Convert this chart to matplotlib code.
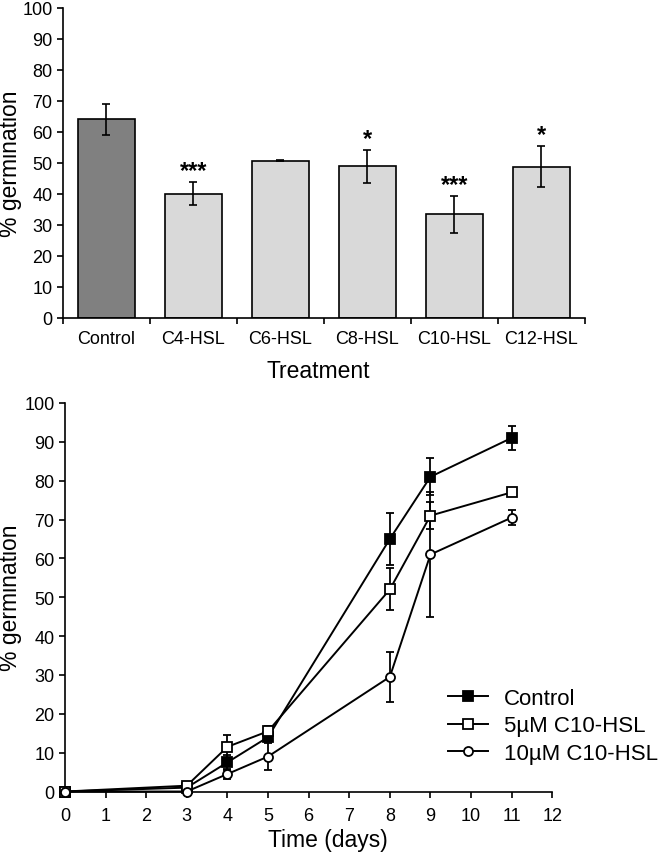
import matplotlib.pyplot as plt
import numpy as np

plt.rcParams["font.family"] = ["Liberation Sans", "DejaVu Sans"]

# top panel: germination per treatment
treatments = ["Control", "C4-HSL", "C6-HSL", "C8-HSL", "C10-HSL", "C12-HSL"]
germination = [64.0, 40.0, 50.7, 48.8, 33.4, 48.7]
germination_err = [4.9, 3.7, 0.2, 5.3, 5.9, 6.6]
significance = ["", "***", "", "*", "***", "*"]

# bottom panel: time course
days = [0, 3, 4, 5, 8, 9, 11]
control = [0, 1.0, 7.5, 14.0, 65.0, 81.0, 91.0]
control_err = [0, 0.5, 2.0, 1.0, 6.8, 4.8, 3.1]
c10_5um = [0, 1.5, 11.5, 15.5, 52.0, 71.0, 77.0]
c10_5um_err = [0, 0.5, 3.0, 1.3, 5.4, 3.5, 0.9]
c10_10um = [0, 0, 4.5, 9.0, 29.5, 61.0, 70.5]
c10_10um_err = [0, 0, 1.2, 3.5, 6.5, 16.0, 2.0]


def style_axes(ax):
    for side in ("top", "right"):
        ax.spines[side].set_visible(False)
    for side in ("left", "bottom"):
        ax.spines[side].set_linewidth(1.2)
    ax.tick_params(direction="out", length=4, width=1.2, labelsize=13)


fig = plt.figure(figsize=(6.63, 8.54), dpi=100)

# ---- bar chart ----
ax1 = fig.add_axes([0.095, 0.6265, 0.787, 0.3635])
style_axes(ax1)
x = np.arange(len(treatments))
colors = ["#808080"] + ["#d9d9d9"] * (len(treatments) - 1)
ax1.bar(x, germination, width=0.655, color=colors, edgecolor="black",
        linewidth=1.2, zorder=2)
ax1.errorbar(x, germination, yerr=germination_err, fmt="none", ecolor="black",
             elinewidth=1.2, capsize=3, capthick=1.2, zorder=3)
for xi, m, e, s in zip(x, germination, germination_err, significance):
    if s:
        ax1.text(xi, m + e, s, ha="center", va="bottom", fontsize=17,
                 fontweight="bold")
ax1.set_xlim(-0.5, len(treatments) - 0.5)
ax1.set_ylim(0, 100)
ax1.set_yticks(np.arange(0, 101, 10))
ax1.set_xticks(np.arange(-0.5, len(treatments)), labels=[])
ax1.set_xticks(x, labels=treatments, minor=True)
ax1.tick_params(axis="x", which="minor", length=0, pad=9, labelsize=13)
ax1.set_ylabel("% germination", fontsize=16.5)
ax1.yaxis.set_label_coords(-0.078, 0.5)
ax1.set_xlabel("Treatment", fontsize=16.5)
ax1.xaxis.set_label_coords(0.4885, -0.132)

# ---- time course ----
ax2 = fig.add_axes([0.098, 0.072, 0.735, 0.455])
style_axes(ax2)
series = [
    ("Control", control, control_err, "s", "black"),
    ("5µM C10-HSL", c10_5um, c10_5um_err, "s", "white"),
    ("10µM C10-HSL", c10_10um, c10_10um_err, "o", "white"),
]
handles = []
for label, vals, errs, mk, fc in series:
    ax2.errorbar(days, vals, yerr=errs, fmt="none", ecolor="black",
                 elinewidth=1.3, capsize=3, capthick=1.3, zorder=2,
                 clip_on=False)
    h, = ax2.plot(days, vals, color="black", lw=1.4, marker=mk, ms=6.5,
                  mfc=fc, mec="black", mew=1.3, label=label, zorder=3,
                  clip_on=False)
    handles.append(h)
ax2.set_xlim(0, 12)
ax2.set_ylim(0, 100)
ax2.set_xticks(np.arange(0, 13, 1))
ax2.set_yticks(np.arange(0, 101, 10))
ax2.tick_params(axis="x", pad=7)
ax2.set_ylabel("% germination", fontsize=16.5)
ax2.yaxis.set_label_coords(-0.088, 0.5)
ax2.set_xlabel("Time (days)", fontsize=16.5)
ax2.xaxis.set_label_coords(0.54, -0.093)
fig.legend(handles=handles, loc="center left",
           bbox_to_anchor=(448 / 663, 1 - 727 / 854), frameon=False,
           fontsize=16, borderpad=0, borderaxespad=0, handlelength=1.8,
           handletextpad=0.7, labelspacing=0.3)

fig.savefig("out.png", dpi=100)
plt.close(fig)
